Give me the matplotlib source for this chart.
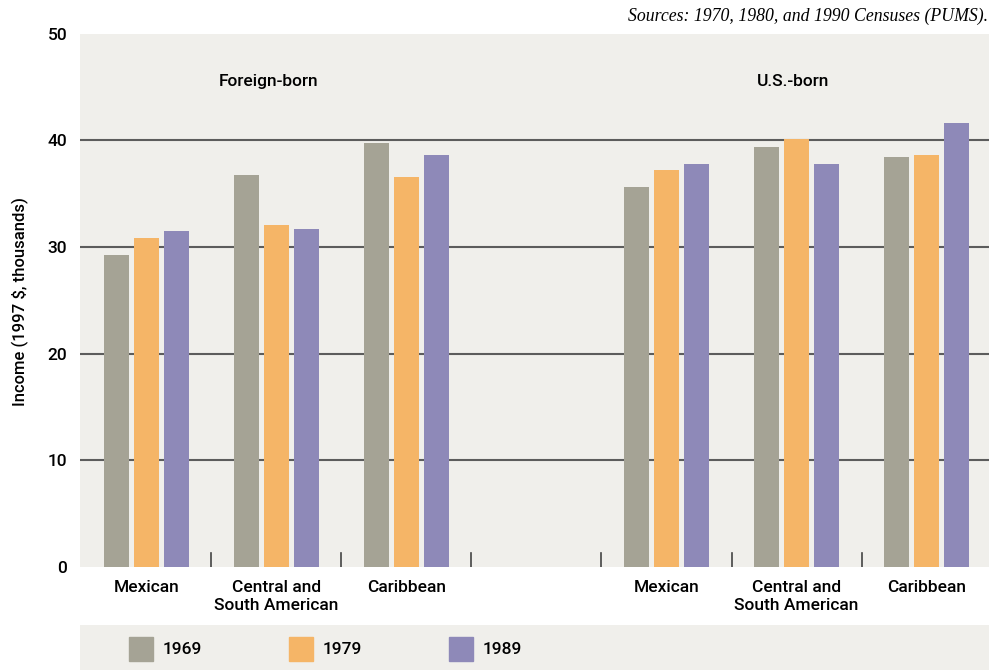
import matplotlib

matplotlib.use("Agg")
import matplotlib.pyplot as plt
from matplotlib.patches import Rectangle
import numpy as np

# values (1997 $, thousands)
origins = ["Mexican", "Central and\nSouth American", "Caribbean"]
groups = ["Foreign-born", "U.S.-born"]
years = ["1969", "1979", "1989"]
colors = ["#a5a395", "#f5b567", "#8e89b8"]

foreign_1969 = [29.2, 36.7, 39.7]
foreign_1979 = [30.8, 32.1, 36.6]
foreign_1989 = [31.5, 31.7, 38.6]
us_1969 = [35.6, 39.4, 38.4]
us_1979 = [37.2, 40.1, 38.6]
us_1989 = [37.8, 37.8, 41.6]

plt.rcParams["font.family"] = ["Roboto", "DejaVu Sans"]

W, H = 989, 670
fig = plt.figure(figsize=(W / 100, H / 100), dpi=100)
bg = "#f0efeb"

ax = fig.add_axes([80 / W, 103 / H, (W - 80) / W, (567 - 33.6) / H])
ax.set_facecolor(bg)
for s in ax.spines.values():
    s.set_visible(False)

# slot layout: 3 foreign-born groups, one empty slot, 3 U.S.-born groups
fb_pos = np.arange(3)
us_pos = np.arange(3) + 4
off = 30 / 130
bw = 25 / 130

series = [(foreign_1969, us_1969), (foreign_1979, us_1979), (foreign_1989, us_1989)]
for i, (fb, us) in enumerate(series):
    ax.bar(fb_pos + (i - 1) * off, fb, width=bw, color=colors[i], zorder=3)
    ax.bar(us_pos + (i - 1) * off, us, width=bw, color=colors[i], zorder=3)

ax.set_ylim(0, 50)
ax.set_xlim(-0.51, 6.48)
ax.set_yticks([0, 10, 20, 30, 40, 50])
for v in [10, 20, 30, 40]:
    ax.axhline(v, color="#5c5c5c", lw=1.5, zorder=1)

# small separators between origin groups
for b in [0.5, 1.5, 2.5, 3.5, 4.5, 5.5]:
    ax.plot([b, b], [0, 1.35], color="#444444", lw=1.2, zorder=2)

ax.set_xticks(list(fb_pos) + list(us_pos))
ax.set_xticklabels(origins + origins, fontsize=12.5, linespacing=1.3,
                   fontweight="medium")
for lbl in ax.get_yticklabels():
    lbl.set_fontweight("medium")
ax.tick_params(axis="both", length=0, labelsize=12.5)
ax.tick_params(axis="x", pad=9)
ax.tick_params(axis="y", pad=9)

ax.text(0.94, 45.5, groups[0], ha="center", va="center", fontsize=12.5,
        fontweight="medium")
ax.text(4.97, 45.5, groups[1], ha="center", va="center", fontsize=12.5,
        fontweight="medium")

fig.text(20 / W, 1 - 302 / H, "Income (1997 $, thousands)", rotation=90,
         ha="center", va="center", fontsize=12, fontweight="medium")
fig.text(988 / W, 1 - 16 / H, "Sources: 1970, 1980, and 1990 Censuses (PUMS).",
         ha="right", va="center", fontsize=12.8, style="italic",
         family="Liberation Serif")

# legend band
lax = fig.add_axes([80 / W, 0, (W - 80) / W, 45 / H])
lax.set_facecolor(bg)
lax.set_xlim(0, W - 80)
lax.set_ylim(0, 45)
lax.axis("off")
lax.add_patch(Rectangle((0, 0), W - 80, 45, color=bg, zorder=0))
for i, (yr, c) in enumerate(zip(years, colors)):
    x0 = 49 + i * 160
    lax.add_patch(Rectangle((x0, 9), 24, 24, color=c, zorder=1))
    lax.text(x0 + 34, 21, yr, ha="left", va="center", fontsize=12.5,
             fontweight="medium")

fig.savefig("out.png", dpi=100)
